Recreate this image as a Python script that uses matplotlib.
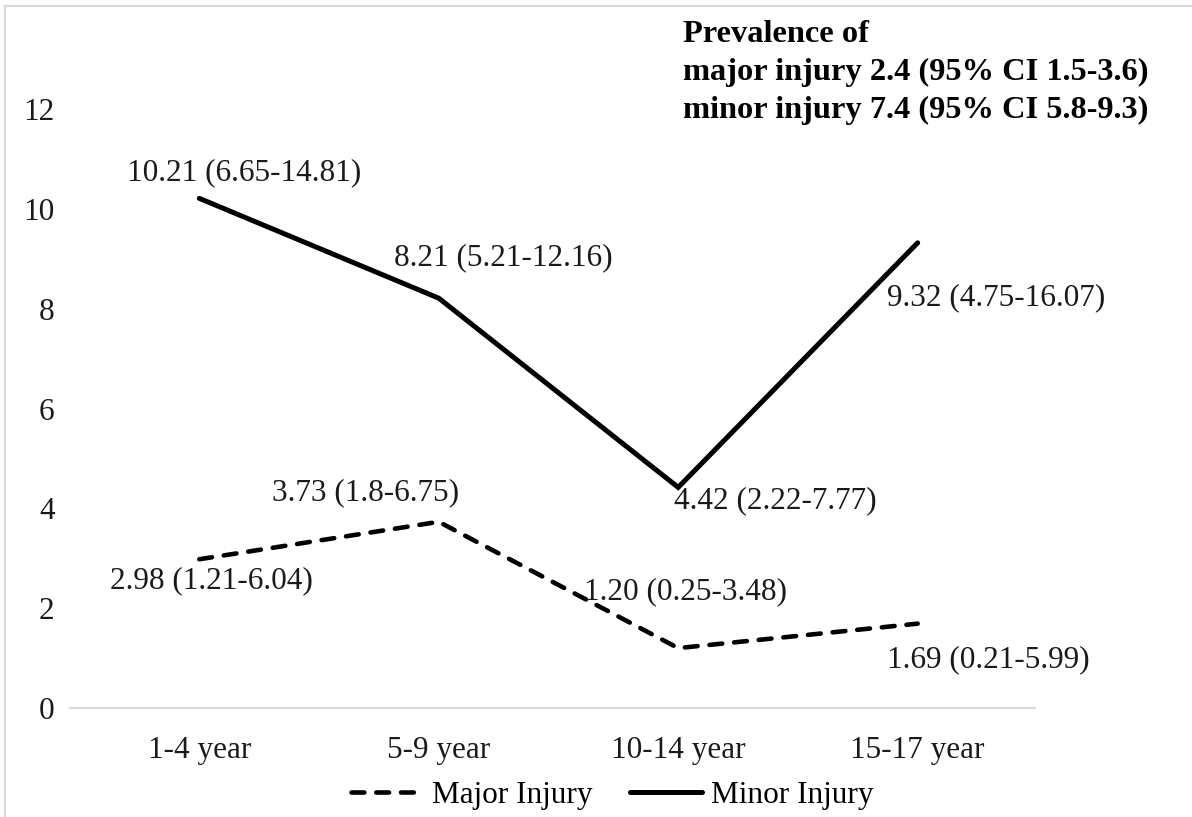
import matplotlib
matplotlib.use("Agg")
import matplotlib.pyplot as plt
from matplotlib.lines import Line2D

plt.rcParams['font.family'] = ['Liberation Serif', 'DejaVu Serif']

categories = ["1-4 year", "5-9 year", "10-14 year", "15-17 year"]
major = [2.98, 3.73, 1.20, 1.69]
minor = [10.21, 8.21, 4.42, 9.32]
major_labels = ["2.98 (1.21-6.04)", "3.73 (1.8-6.75)", "1.20 (0.25-3.48)", "1.69 (0.21-5.99)"]
minor_labels = ["10.21 (6.65-14.81)", "8.21 (5.21-12.16)", "4.42 (2.22-7.77)", "9.32 (4.75-16.07)"]
yticks = [0, 2, 4, 6, 8, 10, 12]
note = "Prevalence of\nmajor injury 2.4 (95% CI 1.5-3.6)\nminor injury 7.4 (95% CI 5.8-9.3)"

# label offsets in pixels (style only)
minor_off = [(45, 26), (65, 40), (97, -13), (78, -55)]
major_off = [(12, -21), (-73, 29), (7, 56), (71, -36)]

W, H = 1192, 817
fig = plt.figure(figsize=(W / 100, H / 100), dpi=100)
ax = fig.add_axes([70 / W, 1 - 708 / H, (1035 - 70) / W, (708 - 109) / H])

x = list(range(len(categories)))
FS = 22.5

ax.plot(x, major, color='black', lw=3.3, linestyle=(0, (2.8, 2.6)),
        dash_capstyle='round', solid_capstyle='round', label='Major Injury', clip_on=False)
ax.plot(x, minor, color='black', lw=3.6, solid_capstyle='round',
        solid_joinstyle='miter', label='Minor Injury', clip_on=False)

for xi, yi, lab, off in zip(x, minor, minor_labels, minor_off):
    ax.annotate(lab, (xi, yi), xytext=off, textcoords='offset pixels',
                ha='center', va='center', fontsize=FS, color='#1a1a1a')
for xi, yi, lab, off in zip(x, major, major_labels, major_off):
    ax.annotate(lab, (xi, yi), xytext=off, textcoords='offset pixels',
                ha='center', va='center', fontsize=FS, color='#1a1a1a')

ax.set_xlim(-0.54, 3.49)
ax.set_ylim(0, 12)
ax.set_xticks(x)
ax.set_xticklabels(categories, fontsize=FS)
ax.set_yticks(yticks)
ax.set_yticklabels([str(t) for t in yticks], fontsize=FS)
ax.tick_params(axis='both', length=0, colors='#1a1a1a')
ax.tick_params(axis='x', pad=20)
ax.tick_params(axis='y', pad=11)
for s in ['top', 'right', 'left']:
    ax.spines[s].set_visible(False)
ax.spines['bottom'].set_color('#d9d9d9')
ax.spines['bottom'].set_linewidth(1.5)

fig.text(683 / W, 1 - 20 / H, note, ha='left', va='top', fontsize=23.3,
         fontweight='bold', linespacing=1.4)

leg = fig.legend(loc='center', bbox_to_anchor=(612 / W, 1 - 795 / H), ncol=2,
                 frameon=False, fontsize=FS, handlelength=2.3, handletextpad=0.3,
                 columnspacing=1.2)

# figure border (light gray)
fig.add_artist(Line2D([5 / W, 5 / W], [0, 1 - 6 / H], color='#d9d9d9', lw=1.5))
fig.add_artist(Line2D([5 / W, 1], [1 - 6 / H, 1 - 6 / H], color='#d9d9d9', lw=1.5))

fig.savefig("out.png", dpi=100, facecolor='white')
